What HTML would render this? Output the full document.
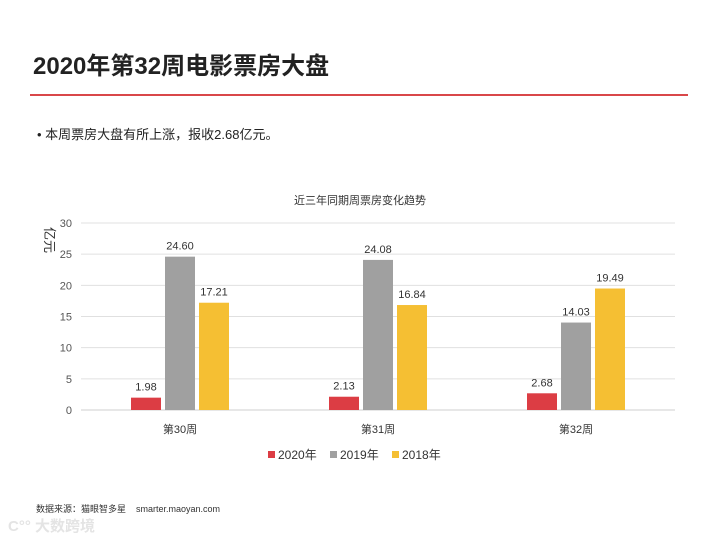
<!DOCTYPE html>
<html><head><meta charset="utf-8"><style>
body{margin:0;width:720px;height:540px;background:#fff;font-family:"Liberation Sans","Noto Sans CJK SC",sans-serif;overflow:hidden;position:relative}
.t{position:absolute;white-space:nowrap}
</style></head><body>
<div class="t" style="left:33px;top:46px;font-size:24px;font-weight:bold;color:#222">2020年第32周电影票房大盘</div>
<div style="position:absolute;left:30px;top:94px;width:658px;height:2px;background:#d9474a"></div>
<div class="t" style="left:37px;top:124px;font-size:13px;color:#222">• 本周票房大盘有所上涨，报收2.68亿元。</div>
<svg id="chart" width="720" height="540" style="position:absolute;left:0;top:0"></svg>
<div class="t" style="left:36px;top:502px;font-size:9px;color:#333">数据来源：猫眼智多星&nbsp;&nbsp;&nbsp;&nbsp;smarter.maoyan.com</div>
<div class="t" style="left:8px;top:515px;font-size:15px;color:#e4e4e4;font-weight:bold">C°° 大数跨境</div>
<script>
const categories=["第30周","第31周","第32周"];
const seriesNames=["2020年","2019年","2018年"];
const s2020=[1.98,2.13,2.68];
const s2019=[24.60,24.08,14.03];
const s2018=[17.21,16.84,19.49];
const ticks=[0,5,10,15,20,25,30];
const colors=["#dc3d44","#a0a0a0","#f5bf33"];
const svg=document.getElementById('chart');
const NS="http://www.w3.org/2000/svg";
const x0=81,x1=675,y0=410,yTop=223,ymax=30;
const y=v=>y0-(y0-yTop)*v/ymax;
const band=(x1-x0)/categories.length;
const cx=i=>x0+band*(i+0.5);
function el(t,a){const e=document.createElementNS(NS,t);for(const k in a)e.setAttribute(k,a[k]);svg.appendChild(e);return e;}
function txt(s,a){const e=el('text',a);e.textContent=s;return e;}
const title=txt("近三年同期周票房变化趋势",{x:360,y:204,'text-anchor':'middle','font-size':11,fill:'#333'});


const yt=txt("亿元",{x:0,y:0,'font-size':13,fill:'#333',transform:'translate(45,240) rotate(90)','text-anchor':'middle'});


ticks.forEach(t=>{
  const g=el('line',{x1:x0,x2:x1,y1:y(t),y2:y(t),stroke:t===0?'#cfcfcf':'#e0e0e0','stroke-width':1});
  
  
  const l=txt(String(t),{x:72,y:y(t)+4,'text-anchor':'end','font-size':11,fill:'#555'});
  
  
});
const series=[s2020,s2019,s2018];
const bw=30,gap=4;
categories.forEach((c,i)=>{
  const l=txt(c,{x:cx(i),y:433,'text-anchor':'middle','font-size':11,fill:'#333'});
  
  
  series.forEach((s,j)=>{
    const bx=cx(i)+(j-1)*(bw+gap)-bw/2;
    const r=el('rect',{x:bx,y:y(s[i]),width:bw,height:y0-y(s[i]),fill:colors[j]});
    
    
    const v=txt(s[i].toFixed(2),{x:bx+bw/2,y:y(s[i])-7,'text-anchor':'middle','font-size':11,fill:'#333'});
    
    
  });
});
const lx=[268,330,392];
seriesNames.forEach((n,j)=>{
  const r=el('rect',{x:lx[j],y:451,width:7,height:7,fill:colors[j]});
  
  
  const t=txt(n,{x:lx[j]+10,y:459,'font-size':12,fill:'#333'});
  
  
});
</script>
</body></html>
